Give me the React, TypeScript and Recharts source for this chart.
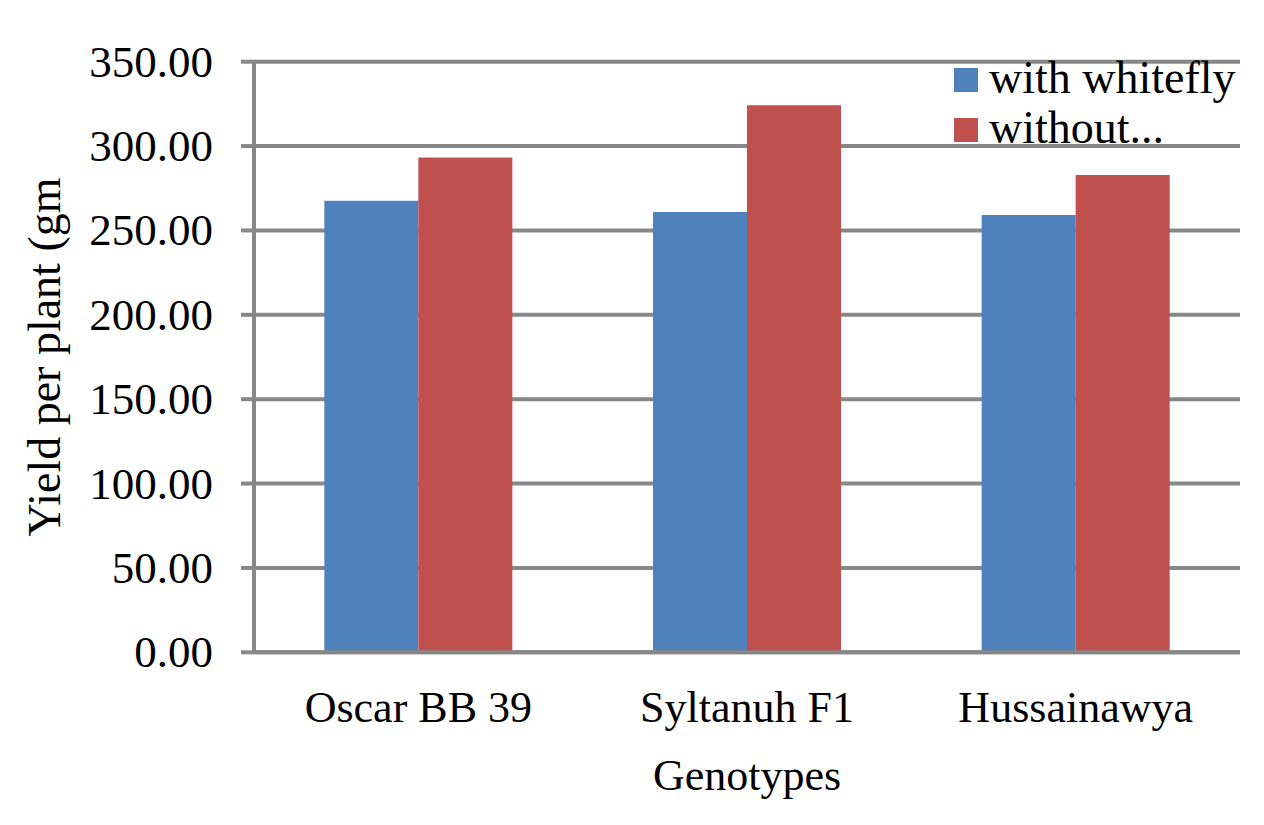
import React from 'react';
import { BarChart, Bar, XAxis, YAxis, CartesianGrid, Legend } from 'recharts';

const genotypes = ['Oscar BB 39', 'Syltanuh F1', 'Hussainawya'];
const withWhitefly = [267.6, 260.9, 259.2];
const withoutWhitefly = [293.3, 324.2, 282.9];
const yTicks = [0, 50, 100, 150, 200, 250, 300, 350];
const seriesKeys = ['withWhitefly', 'withoutWhitefly'];
const seriesNames = ['with whitefly', 'without whitefly'];
const legendLabels = ['with whitefly', 'without...'];
const seriesColors = ['#4F81BD', '#C0504D'];
const xTitle = 'Genotypes';
const yTitle = 'Yield per plant (gm';

const data = genotypes.map((g, i) => ({
  genotype: g,
  withWhitefly: withWhitefly[i],
  withoutWhitefly: withoutWhitefly[i],
}));

const FONT = '"Liberation Serif", "Times New Roman", serif';
const GRID = '#878787';
const FS = 44;

const YTick = (props: any) => {
  const { x, y, payload } = props;
  return (
    <text x={x} y={y} dy={15} textAnchor="end" fontSize={45} fontFamily={FONT} fill="#000">
      {Number(payload.value).toFixed(2)}
    </text>
  );
};

const XTick = (props: any) => {
  const { x, y, payload } = props;
  return (
    <text x={x} y={y} dy={70} textAnchor="middle" fontSize={FS} fontFamily={FONT} fill="#000">
      {payload.value}
    </text>
  );
};

const YLabel = (props: any) => {
  const vb = props.viewBox || { x: 0, y: 62, width: 254, height: 590 };
  const cx = vb.x + 60;
  const cy = vb.y + vb.height / 2;
  return (
    <text
      x={cx}
      y={cy}
      textAnchor="middle"
      transform={`rotate(-90 ${cx} ${cy})`}
      fontSize={46}
      fontFamily={FONT}
      fill="#000"
    >
      {yTitle}
    </text>
  );
};

const XLabel = (props: any) => {
  const vb = props.viewBox || { x: 254, y: 652, width: 986, height: 100 };
  const cx = vb.x + vb.width / 2;
  return (
    <text x={cx} y={vb.y + 138} textAnchor="middle" fontSize={FS} fontFamily={FONT} fill="#000">
      {xTitle}
    </text>
  );
};

const LegendContent = (props: any) => {
  const payload = props.payload || [];
  return (
    <div style={{ fontFamily: FONT, fontSize: 46, lineHeight: '50px', color: '#000' }}>
      {payload.map((entry: any, i: number) => (
        <div key={i} style={{ display: 'flex', alignItems: 'center', height: 50, whiteSpace: 'nowrap' }}>
          <span
            style={{
              display: 'inline-block',
              width: 24,
              height: 24,
              background: entry.color,
              marginRight: 11,
              marginTop: 4,
            }}
          />
          <span>{legendLabels[i] ?? entry.value}</span>
        </div>
      ))}
    </div>
  );
};

export default function App() {
  return (
    <div style={{ position: 'absolute', left: 0, top: 0, width: 1264, height: 825, background: '#fff' }}>
      <BarChart
        width={1264}
        height={825}
        data={data}
        margin={{ top: 61.7, right: 24, bottom: 72.7, left: 0 }}
        barCategoryGap="21.4%"
        barGap={0}
      >
        <CartesianGrid vertical={false} stroke={GRID} strokeWidth={4} />
        <XAxis
          dataKey="genotype"
          height={100}
          tickLine={false}
          tickSize={0}
          tickMargin={0}
          axisLine={{ stroke: GRID, strokeWidth: 4 }}
          tick={<XTick />}
          interval={0}
          label={<XLabel />}
        />
        <YAxis
          width={254}
          domain={[0, 350]}
          ticks={yTicks}
          interval={0}
          tickSize={13}
          tickMargin={28}
          tickLine={{ stroke: GRID, strokeWidth: 4 }}
          axisLine={{ stroke: GRID, strokeWidth: 4 }}
          tick={<YTick />}
          label={<YLabel />}
        />
        <Legend
          layout="vertical"
          align="center"
          verticalAlign="middle"
          content={<LegendContent />}
          wrapperStyle={{ position: 'absolute', top: 53, left: 954, right: 'auto', bottom: 'auto', width: 'auto', height: 'auto' }}
        />
        {seriesKeys.map((k, i) => (
          <Bar key={k} dataKey={k} name={seriesNames[i]} fill={seriesColors[i]} isAnimationActive={false} />
        ))}
      </BarChart>
    </div>
  );
}
